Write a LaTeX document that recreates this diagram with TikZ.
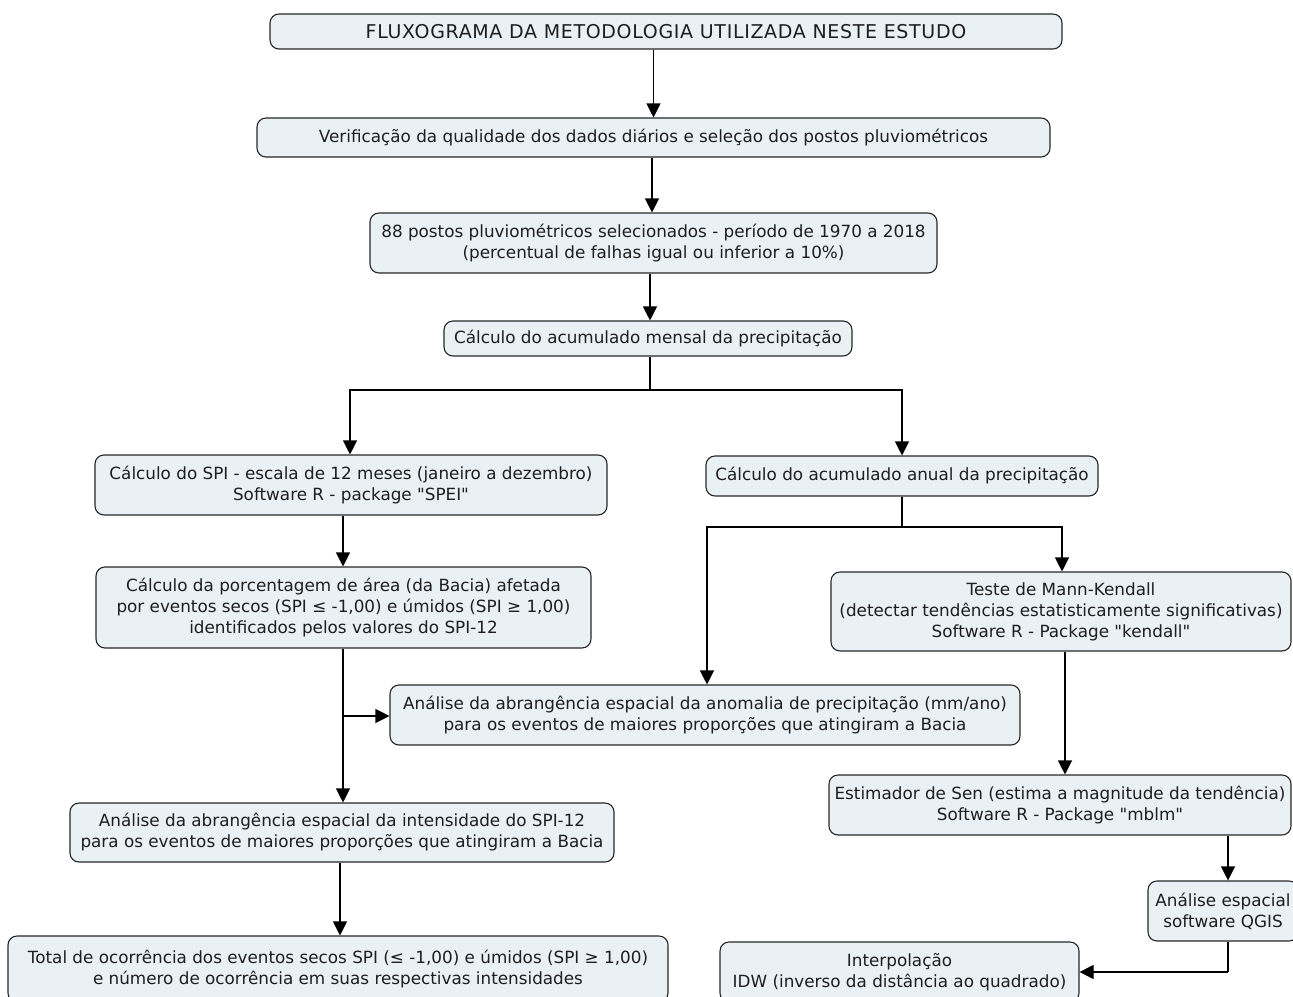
\documentclass[tikz,border=0pt]{standalone}
\usepackage{fontspec}
\setmainfont{DejaVu Sans}
\newfontfamily\bodyfont{DejaVu Sans}
\newfontfamily\titlefont{DejaVu Sans}[LetterSpace=3.5]
\usetikzlibrary{arrows.meta,calc}
\definecolor{boxfill}{HTML}{EAF1F5}
\definecolor{txt}{HTML}{1E1E1E}
\tikzset{
  box/.style={draw=black!85, line width=1.1pt, fill=boxfill, rounded corners=9pt,
    align=center, text=txt, inner sep=0pt, font=\bodyfont\fontsize{16.8}{21}\selectfont},
  arr/.style={line width=1.1pt, draw=black, -{Triangle[length=14pt,width=14pt]}},
  ln/.style={line width=1.1pt, draw=black}
}
\begin{document}
\begin{tikzpicture}[x=1pt,y=-1pt]
\useasboundingbox (0,0) rectangle (1293,996);
\clip (0,0) rectangle (1293,996);
% nodes
\node[box, minimum width=792pt, minimum height=35pt, font=\titlefont\fontsize{19}{21}\selectfont] (title) at (666,31.5) {FLUXOGRAMA DA METODOLOGIA UTILIZADA NESTE ESTUDO};
\node[box, minimum width=793pt, minimum height=39pt] (verif) at (653.5,137.5) {Verificação da qualidade dos dados diários e seleção dos postos pluviométricos};
\node[box, minimum width=567pt, minimum height=60pt] (postos) at (653.5,243) {88 postos pluviométricos selecionados - período de 1970 a 2018\\(percentual de falhas igual ou inferior a 10\%)};
\node[box, minimum width=408pt, minimum height=35pt] (mensal) at (648,338.5) {Cálculo do acumulado mensal da precipitação};
\node[box, minimum width=512pt, minimum height=60pt] (spi) at (351,485) {Cálculo do SPI - escala de 12 meses (janeiro a dezembro)\\Software R - package "SPEI"};
\node[box, minimum width=392pt, minimum height=40pt] (anual) at (902,476) {Cálculo do acumulado anual da precipitação};
\node[box, minimum width=495pt, minimum height=81pt] (porc) at (343.5,607.5) {Cálculo da porcentagem de área (da Bacia) afetada\\por eventos secos (SPI ≤ -1,00) e úmidos (SPI ≥ 1,00)\\identificados pelos valores do SPI-12};
\node[box, minimum width=460pt, minimum height=79pt] (mk) at (1061,611.5) {Teste de Mann-Kendall\\(detectar tendências estatisticamente significativas)\\Software R - Package "kendall"};
\node[box, minimum width=630pt, minimum height=60pt] (anom) at (705,715) {Análise da abrangência espacial da anomalia de precipitação (mm/ano)\\para os eventos de maiores proporções que atingiram a Bacia};
\node[box, minimum width=462pt, minimum height=60pt] (sen) at (1060,805) {Estimador de Sen (estima a magnitude da tendência)\\Software R - Package "mblm"};
\node[box, minimum width=544pt, minimum height=59pt] (intens) at (342,832.5) {Análise da abrangência espacial da intensidade do SPI-12\\para os eventos de maiores proporções que atingiram a Bacia};
\node[box, minimum width=150pt, minimum height=60pt] (qgis) at (1223,911) {Análise espacial\\software QGIS};
\node[box, minimum width=660pt, minimum height=66pt] (total) at (338,969) {Total de ocorrência dos eventos secos SPI (≤ -1,00) e úmidos (SPI ≥ 1,00)\\e número de ocorrência em suas respectivas intensidades};
\node[box, minimum width=359pt, minimum height=60pt] (interp) at (899.5,972) {Interpolação\\IDW (inverso da distância ao quadrado)};
% helper coordinates
\coordinate (s1) at (650,390);
\coordinate (xl) at (350,0);
\coordinate (xr) at (902,0);
\coordinate (s2) at (902,527);
\coordinate (xa) at (707,0);
\coordinate (xm) at (1062,0);
\coordinate (xp) at (343,0);
\coordinate (jp) at (343,716);
\coordinate (xi) at (340,0);
\coordinate (xs) at (1065,0);
\coordinate (xq) at (1228,0);
\coordinate (cq) at (1228,972);
% connectors
\draw[arr] (title.south -| verif.north) -- (verif.north);
\draw[arr] ([xshift=-1.5pt]verif.south) -- ([xshift=-1.5pt]postos.north);
\draw[arr] (postos.south -| s1) -- (mensal.north -| s1);
\draw[ln] (mensal.south -| s1) -- (s1);
\draw[arr] (s1) -| (spi.north -| xl);
\draw[arr] (s1) -| (anual.north -| xr);
\draw[arr] (spi.south -| xp) -- (porc.north -| xp);
\draw[ln] (anual.south -| s2) -- (s2);
\draw[arr] (s2) -| (anom.north -| xa);
\draw[arr] (s2) -| (mk.north -| xm);
\draw[arr] (porc.south -| xp) -- (intens.north -| xp);
\draw[arr] (jp) -- (anom.west |- jp);
\draw[arr] (intens.south -| xi) -- (total.north -| xi);
\draw[arr] (mk.south -| xs) -- (sen.north -| xs);
\draw[arr] (sen.south -| xq) -- (qgis.north -| xq);
\draw[ln] (qgis.south -| xq) -- (cq);
\draw[arr] (cq) -- (interp.east |- cq);
\end{tikzpicture}
\end{document}
